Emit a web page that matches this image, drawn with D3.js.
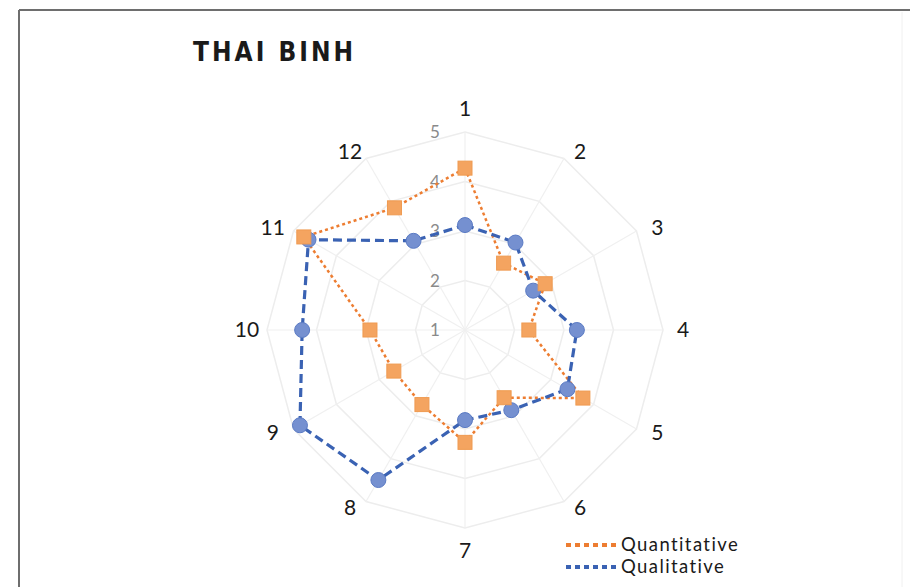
<!DOCTYPE html>
<html>
<head>
<meta charset="utf-8">
<script src="https://cdn.jsdelivr.net/npm/d3@7"></script>
<style>
  body { margin: 0; background: #fff; }
  svg { display: block; font-family: Lato, "Open Sans", sans-serif; }
</style>
</head>
<body>
<svg width="910" height="587"></svg>
<script>
"use strict";
// axes of the radar, 1..12
var categories = ['1','2','3','4','5','6','7','8','9','10','11','12'];
var quantitative = [4.27, 2.56, 2.87, 2.29, 3.75, 2.58, 3.27, 2.74, 2.66, 2.92, 4.76, 3.85];
var qualitative  = [3.12, 3.04, 2.59, 3.26, 3.39, 2.87, 2.82, 4.50, 4.85, 4.29, 4.65, 3.08];
var tickValues = [1, 2, 3, 4, 5];
var seriesNames = ['Quantitative', 'Qualitative'];

var svg = d3.select("svg");
var cx = 465, cy = 330;

// frame
svg.append('line').attr('x1',19).attr('y1',10).attr('x2',910).attr('y2',10)
  .attr('stroke','#6e6e6e').attr('stroke-width',2);
svg.append('line').attr('x1',19).attr('y1',10).attr('x2',19).attr('y2',587)
  .attr('stroke','#6e6e6e').attr('stroke-width',2);
svg.append('line').attr('x1',902).attr('y1',12).attr('x2',902).attr('y2',587)
  .attr('stroke','#f0f0f0').attr('stroke-width',1);

svg.append('text').attr('x',193).attr('y',61)
  .attr('font-size',26).attr('font-weight','bold').attr('letter-spacing',3)
  .attr('font-family','"DejaVu Sans Condensed", "DejaVu Sans", sans-serif')
  .attr('fill','#1a1a1a').text('THAI BINH');

var r = d3.scaleLinear().domain([1,5]).range([0,198]);
var angle = d3.scaleBand().domain(categories).range([0, 2*Math.PI]).align(0);
function ang(c){ return angle(c); }
function pt(c, v){
  var a = ang(c);
  return [cx + Math.sin(a)*r(v), cy - Math.cos(a)*r(v)];
}

var g = svg.append('g');
// grid rings
g.selectAll('polygon.ring')
  .data(tickValues.slice(1))
  .enter().append('polygon')
  .attr('class','ring')
  .attr('points', v => categories.map(c => pt(c, v).join(',')).join(' '))
  .attr('fill','none').attr('stroke','#ededed').attr('stroke-width',1.5);
// spokes
g.selectAll('line.spoke')
  .data(categories)
  .enter().append('line')
  .attr('x1',cx).attr('y1',cy)
  .attr('x2', c => pt(c,5)[0]).attr('y2', c => pt(c,5)[1])
  .attr('stroke','#f0f0f0').attr('stroke-width',1.2);

// tick labels
g.selectAll('text.tick')
  .data(tickValues)
  .enter().append('text')
  .attr('x', cx - 30).attr('y', v => cy - r(v) + 6)
  .attr('text-anchor','middle')
  .attr('font-size',17).attr('fill','#8a8a8a')
  .text(d => d);

// category labels
function labelPos(c){
  var a = ang(c), s = Math.sin(a), k = Math.cos(a);
  var rx = 218 + 16*k*k;
  var ry = Math.abs(k) > 0.99 ? 221 : 205;
  return [cx + s*rx, cy - k*ry];
}
g.selectAll('text.cat')
  .data(categories)
  .enter().append('text')
  .attr('x', c => labelPos(c)[0])
  .attr('y', c => labelPos(c)[1] + 7)
  .attr('text-anchor','middle')
  .attr('font-size',21).attr('fill','#1a1a1a')
  .text(c => c);

var line = d3.line().curve(d3.curveLinearClosed);
var colors = ['#ed7d31', '#3a62b3'];

// Quantitative
var qn = categories.map((c,i) => pt(c, quantitative[i]));
g.append('path').attr('d', line(qn))
  .attr('fill','none').attr('stroke',colors[0]).attr('stroke-width',2.5)
  .attr('stroke-dasharray','3,3');
// Qualitative
var ql = categories.map((c,i) => pt(c, qualitative[i]));
g.append('path').attr('d', line(ql))
  .attr('fill','none').attr('stroke',colors[1]).attr('stroke-width',3.2)
  .attr('stroke-dasharray','9,5');

g.selectAll('circle.ql')
  .data(ql).enter().append('circle')
  .attr('cx', d => d[0]).attr('cy', d => d[1]).attr('r', 7.5)
  .attr('fill','#7590d0').attr('stroke','#5b7bc4').attr('stroke-width',1);

g.selectAll('rect.qn')
  .data(qn).enter().append('rect')
  .attr('x', d => d[0]-7).attr('y', d => d[1]-7)
  .attr('width',14).attr('height',14)
  .attr('fill','#f4a460').attr('stroke','#ef9a50').attr('stroke-width',1);

// legend
var leg = svg.append('g');
leg.selectAll('line')
  .data(seriesNames).enter().append('line')
  .attr('x1',566).attr('x2',620)
  .attr('y1',(d,i) => 545 + i*22).attr('y2',(d,i) => 545 + i*22)
  .attr('stroke',(d,i) => colors[i])
  .attr('stroke-width',4).attr('stroke-dasharray','5,4');
leg.selectAll('text')
  .data(seriesNames).enter().append('text')
  .attr('x',621).attr('y',(d,i) => 551 + i*22)
  .attr('font-size',18.5).attr('letter-spacing',1.4).attr('fill','#1a1a1a')
  .text(d => d);
</script>
</body>
</html>
